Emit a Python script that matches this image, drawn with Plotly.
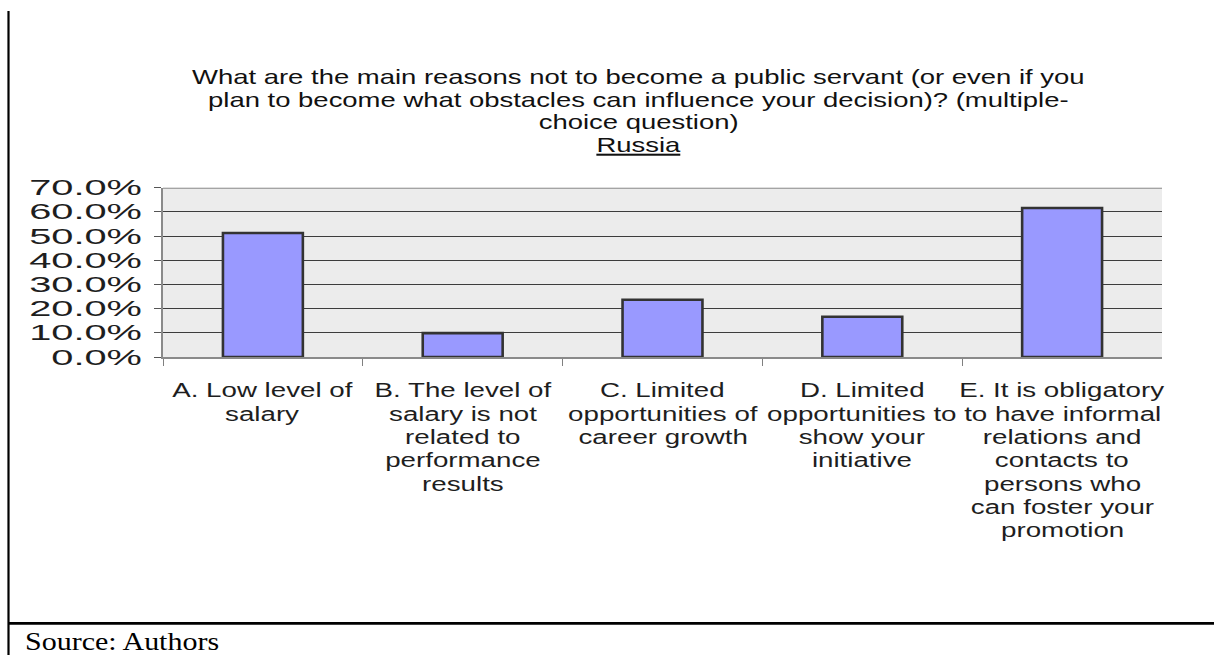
import json
import plotly.graph_objects as go

W, H = 1214, 668

# category labels, one list of wrapped lines per category
category_lines = [
    ["A. Low level of", "salary"],
    ["B. The level of", "salary is not", "related to", "performance", "results"],
    ["C. Limited", "opportunities of", "career growth"],
    ["D. Limited", "opportunities to", "show your", "initiative"],
    ["E. It is obligatory", "to have informal", "relations and", "contacts to",
     "persons who", "can foster your", "promotion"],
]
categories = [" ".join(lines) for lines in category_lines]
shares = [0.513, 0.099, 0.237, 0.167, 0.616]

title_lines = [
    "What are the main reasons not to become a public servant (or even if you",
    "plan to become what obstacles can influence your decision)? (multiple-",
    "choice question)",
    '<span style="text-decoration:underline">Russia</span>',
]
source_text = "Source: Authors"

y_ticks = [0.0, 0.1, 0.2, 0.3, 0.4, 0.5, 0.6, 0.7]

FONT = "Liberation Sans, Arial, sans-serif"
TEXT = "#1e1e1e"

# text sizes and the horizontal widening of the lettering
TITLE_FS, TITLE_PITCH, TITLE_SX = 20.5, 23.5, 1.34
CAT_FS, CAT_PITCH, CAT_SX = 21, 24.2, 1.32
YTICK_FS, YTICK_SX = 21.5, 1.85
SRC_FS, SRC_SX = 25, 1.2

# plot area in pixels
px_left, px_right, px_top, px_bottom = 163, 1162, 183.3, 359


def py(p):
    """pixel row -> paper fraction"""
    return 1 - p / H


fig = go.Figure(
    go.Bar(
        x=categories,
        y=shares,
        marker=dict(color="#9999FF", line=dict(color="#333333", width=2.6)),
        width=0.4,
        hoverinfo="skip",
    )
)

fig.update_layout(
    width=W,
    height=H,
    margin=dict(l=0, r=0, t=0, b=0),
    paper_bgcolor="white",
    plot_bgcolor="#ECECEC",
    showlegend=False,
    font=dict(family=FONT, color=TEXT),
    xaxis=dict(
        type="category",
        domain=[px_left / W, px_right / W],
        range=[-0.5, len(categories) - 0.5],
        showticklabels=False,
        tickson="boundaries",
        ticks="outside",
        ticklen=7,
        tickwidth=1,
        tickcolor="#808080",
        showgrid=False,
        showline=True,
        linecolor="#8a8a8a",
        linewidth=1.5,
        zeroline=False,
    ),
    yaxis=dict(
        domain=[py(px_bottom), py(px_top)],
        range=[0, 0.7],
        tickvals=y_ticks,
        tickformat=".1%",
        ticks="outside",
        ticklen=7,
        tickwidth=1,
        tickcolor="#555555",
        showgrid=True,
        gridcolor="#3c3c3c",
        gridwidth=1,
        showline=True,
        linecolor="#8a8a8a",
        linewidth=1.5,
        zeroline=False,
        tickfont=dict(size=YTICK_FS, color=TEXT),
        ticklabelstandoff=8,
    ),
)

# lighter top edge of the plot area
fig.add_shape(type="line", xref="paper", yref="y", layer="between",
              x0=px_left / W, x1=px_right / W, y0=0.7, y1=0.7,
              line=dict(color="#8c8c8c", width=2))

ann_sx = []  # widening factor for every annotation, in order

# category labels, one annotation per wrapped line
first_line_center = 393
for cat, lines in zip(categories, category_lines):
    for k, line in enumerate(lines):
        fig.add_annotation(
            text=line, x=cat, xref="x",
            y=py(first_line_center + k * CAT_PITCH), yref="paper",
            xanchor="center", yanchor="middle", showarrow=False,
            font=dict(size=CAT_FS, color=TEXT),
        )
        ann_sx.append(CAT_SX)

# title, one annotation per line
title_center_x = 638
title_first_center = 68
for k, line in enumerate(title_lines):
    fig.add_annotation(
        text=line, xref="paper", yref="paper",
        x=title_center_x / W, y=py(title_first_center + k * TITLE_PITCH),
        xanchor="center", yanchor="middle", showarrow=False,
        font=dict(size=TITLE_FS, color="#111111"),
    )
    ann_sx.append(TITLE_SX)

fig.add_annotation(
    text=source_text,
    xref="paper", yref="paper",
    x=23 / W, y=py(654),
    xanchor="left", yanchor="middle", align="left",
    showarrow=False,
    font=dict(family="Liberation Serif, Times New Roman, serif", size=SRC_FS, color="#000000"),
)
ann_sx.append(SRC_SX)

# frame lines
fig.add_shape(type="line", xref="paper", yref="paper",
              x0=8.5 / W, x1=8.5 / W, y0=0, y1=1,
              line=dict(color="black", width=2.2))
fig.add_shape(type="line", xref="paper", yref="paper",
              x0=8.5 / W, x1=1, y0=py(635.3), y1=py(635.3),
              line=dict(color="black", width=2.8))

# widen the lettering horizontally, anchored at each text's own x position
post_js = """
var gd = document.getElementById('{plot_id}');
var annSx = %s;
function widen(el, s) {
  var x = parseFloat(el.getAttribute('x')) || 0;
  var t = el.getAttribute('transform') || '';
  el.setAttribute('transform', t + ' translate(' + x + ' 0) scale(' + s + ' 1) translate(' + (-x) + ' 0)');
}
gd.querySelectorAll('.ytick text').forEach(function (el) { widen(el, %s); });
gd.querySelectorAll('g.annotation').forEach(function (g) {
  var i = parseInt(g.getAttribute('data-index'), 10);
  var el = g.querySelector('text.annotation-text');
  if (el && annSx[i]) { widen(el, annSx[i]); }
});
""" % (json.dumps(ann_sx), YTICK_SX)

fig.write_html("out.html", post_script=post_js)
